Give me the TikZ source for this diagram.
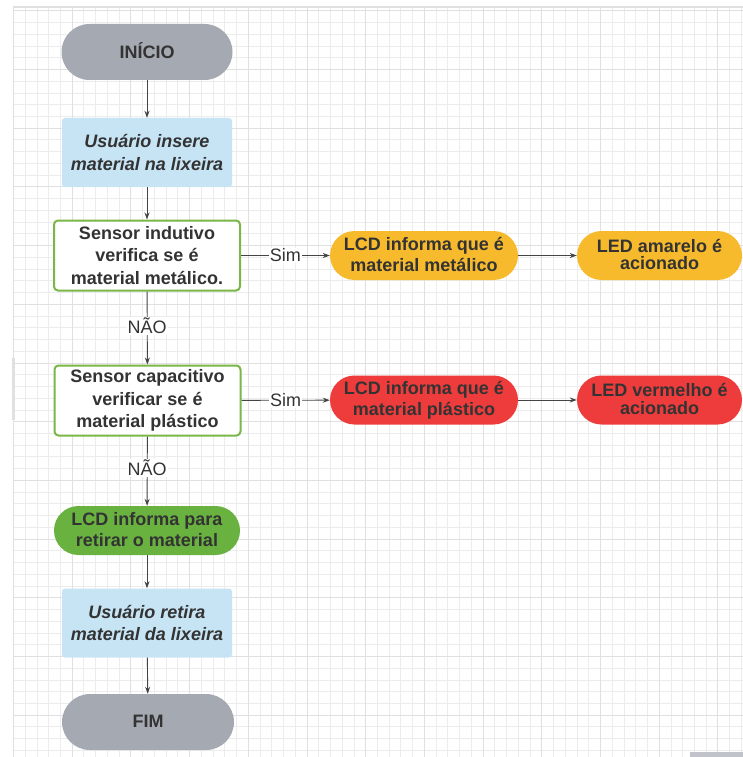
\documentclass[tikz,border=0pt]{standalone}
\usepackage{fontspec}
\setmainfont{Liberation Sans}
\usetikzlibrary{arrows.meta}
\definecolor{txt}{RGB}{51,51,51}
\definecolor{termgray}{RGB}{165,169,178}
\definecolor{lblue}{RGB}{199,228,245}
\definecolor{gborder}{RGB}{122,182,72}
\definecolor{yel}{RGB}{247,186,45}
\definecolor{redf}{RGB}{238,60,60}
\definecolor{grn}{RGB}{105,178,63}
\definecolor{gminor}{RGB}{236,236,236}
\definecolor{gmajor}{RGB}{224,224,224}
\definecolor{lnk}{RGB}{68,68,68}
\begin{document}
\begin{tikzpicture}[x=1pt,y=-1pt,
  base/.style={text=txt, font=\bfseries\fontsize{18}{22.5}\selectfont, align=center, inner sep=0pt},
  term/.style={base, fill=termgray, minimum width=171pt, minimum height=56pt, rounded corners=28pt},
  act/.style={base, font=\bfseries\itshape\fontsize{18}{22.5}\selectfont, fill=lblue, minimum width=170pt, minimum height=69pt, rounded corners=3pt},
  dec/.style={base, draw=gborder, line width=2pt, fill=white, minimum width=186pt, minimum height=70pt, rounded corners=4pt},
  pill/.style={base, minimum width=188pt, minimum height=49pt, rounded corners=24.5pt},
  pillsm/.style={pill, minimum width=165pt},
  link/.style={draw=lnk, line width=0.9pt, -{Stealth[length=7pt,width=5pt]}},
  lbl/.style={fill=white, text=txt, font=\fontsize{18}{22}\selectfont, inner sep=1pt}
]
\useasboundingbox (0,0) rectangle (743,757);
\fill[white] (0,0) rectangle (743,757);
% grid
\begin{scope}
\clip (13,8) rectangle (743,757);
\foreach \i in {0,...,62} \draw[gminor, line width=0.9pt] ({13.5+11.74*\i},8) -- ++(0,749);
\foreach \i in {-1,...,64} \draw[gminor, line width=0.9pt] (13,{10.8+11.74*\i}) -- ++(730,0);
\foreach \i in {0,...,12} \draw[gmajor, line width=1pt] ({13.5+58.7*\i},8) -- ++(0,749);
\foreach \i in {0,...,12} \draw[gmajor, line width=1pt] (13,{10.8+58.7*\i}) -- ++(730,0);
\end{scope}
\draw[gmajor, line width=1.2pt] (13,7) -- (743,7);
\fill[gmajor] (12,358) rectangle (15,420);
\fill[termgray!70] (690,752) rectangle (743,760);
% nodes
\node[term] (inicio) at (147,52) {\raisebox{2pt}{INÍCIO}};
\node[act] (ins) at (147,152.5) {Usuário insere\\material na lixeira};
\node[dec] (ind) at (147,255.5) {Sensor indutivo\\verifica se é\\material metálico.};
\node[pill, fill=yel] (lcdm) at (424,255.5) {\raisebox{2pt}{\shortstack{LCD informa que é\\[1pt]material metálico}}};
\node[pillsm, fill=yel] (leda) at (659.5,255.5) {\raisebox{2pt}{\shortstack{LED amarelo é\\[1pt]acionado}}};
\node[dec] (cap) at (147.5,400.5) {Sensor capacitivo\\verificar se é\\material plástico};
\node[pill, fill=redf] (lcdp) at (424,400) {\raisebox{2pt}{\shortstack{LCD informa que é\\[1pt]material plástico}}};
\node[pillsm, fill=redf] (ledv) at (659.5,400) {\raisebox{2pt}{\shortstack{LED vermelho é\\[1pt]acionado}}};
\node[pill, fill=grn, minimum width=186pt] (lcdr) at (147,530.5) {\raisebox{2pt}{\shortstack{LCD informa para\\[1pt]retirar o material}}};
\node[act] (ret) at (147,623) {Usuário retira\\material da lixeira};
\node[term, minimum width=172pt] (fim) at (148,722) {\raisebox{2pt}{FIM}};
% links
\draw[link] (inicio) -- (ins);
\draw[link] (ins) -- (ind);
\draw[link] (ind) -- node[lbl, pos=0.5] {Sim} (lcdm);
\draw[link] (lcdm) -- (leda);
\draw[link] (ind) -- node[lbl, pos=0.47] {NÃO} (cap);
\draw[link] (cap) -- node[lbl, pos=0.5] {Sim} (lcdp);
\draw[link] (lcdp) -- (ledv);
\draw[link] (cap) -- node[lbl, pos=0.45] {NÃO} (lcdr);
\draw[link] (lcdr) -- (ret);
\draw[link] (ret) -- (fim);
\end{tikzpicture}
\end{document}
